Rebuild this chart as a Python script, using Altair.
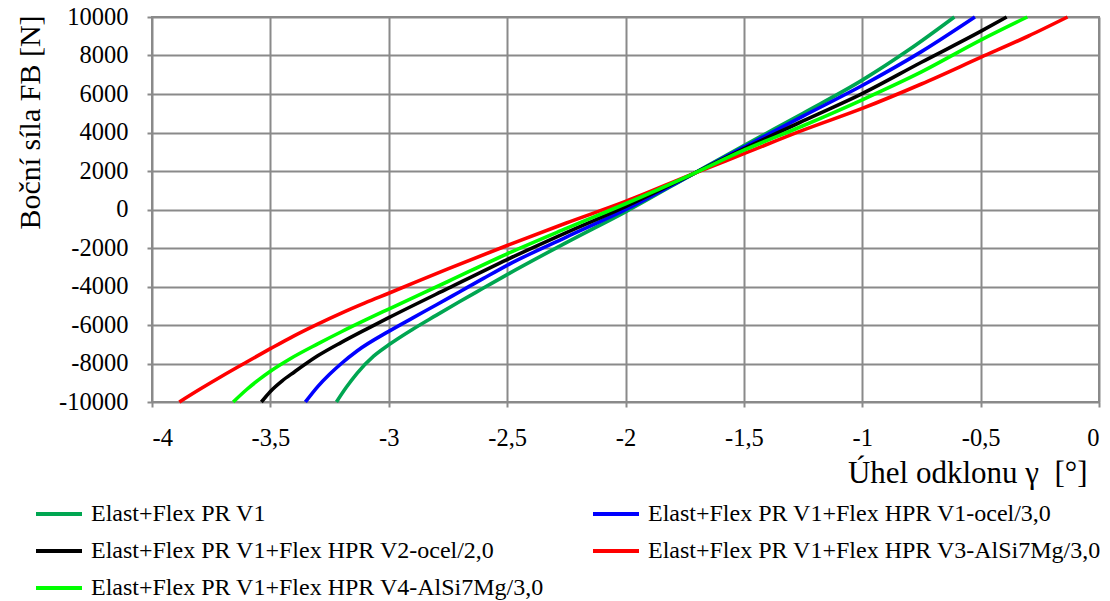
import altair as alt
import pandas as pd

# Lateral force FB [N] versus camber angle gamma [deg] for five spring variants
series_names = [
    "Elast+Flex PR V1",
    "Elast+Flex PR V1+Flex HPR V1-ocel/3,0",
    "Elast+Flex PR V1+Flex HPR V2-ocel/2,0",
    "Elast+Flex PR V1+Flex HPR V3-AlSi7Mg/3,0",
    "Elast+Flex PR V1+Flex HPR V4-AlSi7Mg/3,0",
]
series_colors = ["#00a651", "#0000ff", "#000000", "#ff0000", "#00ff00"]

pr_v1_x = [-3.221, -3.18, -3.134, -3.064, -3.0, -2.9, -2.8, -2.7, -2.6, -2.5,
           -2.25, -2.0, -1.71, -1.5, -1.25, -1.0, -0.8, -0.611]
pr_v1_y = [-10000, -9250, -8510, -7620, -7030, -6230, -5500, -4780, -4080, -3380,
           -1720, -120, 1880, 3320, 5000, 6720, 8320, 10000]

hpr_v1_x = [-3.352, -3.3, -3.25, -3.2, -3.134, -3.0, -2.9, -2.8, -2.7, -2.6, -2.5,
            -2.25, -2.0, -1.71, -1.5, -1.25, -1.0, -0.75, -0.524]
hpr_v1_y = [-10000, -9200, -8560, -8000, -7350, -6330, -5640, -4960, -4270, -3580, -2900,
            -1430, -10, 1880, 3240, 4850, 6440, 8200, 10000]

hpr_v2_x = [-3.538, -3.5, -3.45, -3.4, -3.3, -3.2, -3.1, -3.0, -2.75, -2.5,
            -2.25, -2.0, -1.71, -1.5, -1.25, -1.0, -0.75, -0.5, -0.39]
hpr_v2_y = [-10000, -9450, -8900, -8450, -7600, -6900, -6250, -5620, -4100, -2600,
            -1200, 150, 1880, 3150, 4600, 6020, 7650, 9250, 10000]

hpr_v3_x = [-3.885, -3.8, -3.7, -3.6, -3.5, -3.4, -3.3, -3.2, -3.1, -3.0, -2.75, -2.5,
            -2.25, -2.0, -1.71, -1.5, -1.25, -1.0, -0.75, -0.5, -0.3, -0.133]
hpr_v3_y = [-10000, -9350, -8620, -7920, -7230, -6560, -5950, -5380, -4850, -4350, -3080, -1870,
            -700, 420, 1880, 2900, 4120, 5250, 6520, 7900, 9000, 10000]

hpr_v4_x = [-3.657, -3.6, -3.55, -3.5, -3.416, -3.3, -3.2, -3.1, -3.0, -2.75, -2.5,
            -2.25, -2.0, -1.71, -1.5, -1.25, -1.0, -0.75, -0.5, -0.303]
hpr_v4_y = [-10000, -9350, -8850, -8400, -7750, -6980, -6350, -5750, -5170, -3740, -2300,
            -980, 300, 1880, 3080, 4350, 5700, 7150, 8800, 10000]

x_ticks = [-4, -3.5, -3, -2.5, -2, -1.5, -1, -0.5, 0]
y_ticks = [-10000, -8000, -6000, -4000, -2000, 0, 2000, 4000, 6000, 8000, 10000]

xs = [pr_v1_x, hpr_v1_x, hpr_v2_x, hpr_v3_x, hpr_v4_x]
ys = [pr_v1_y, hpr_v1_y, hpr_v2_y, hpr_v3_y, hpr_v4_y]

rows = []
for order, (name, sx, sy) in enumerate(zip(series_names, xs, ys)):
    for i, (a, b) in enumerate(zip(sx, sy)):
        rows.append({"serie": name, "order": order, "i": i, "gamma": a, "fb": b})
df = pd.DataFrame(rows)

FONT = "Liberation Serif"
GRID = "#8a8a8a"

chart = alt.Chart(df).mark_line(strokeWidth=3.6, interpolate="monotone").encode(
    x=alt.X(
        "gamma:Q",
        scale=alt.Scale(domain=[-4, 0], nice=False, zero=False),
        axis=alt.Axis(
            values=x_ticks,
            labelExpr="replace(toString(datum.value), '.', ',')",
            title="Úhel odklonu γ\u00a0\u00a0[°]",
            titleFontSize=31,
            titleX=935,
            titleY=80,
            titleAlign="right",
            titleBaseline="alphabetic",
            titleAngle=0,
        ),
    ),
    y=alt.Y(
        "fb:Q",
        scale=alt.Scale(domain=[-10000, 10000], nice=False, zero=False),
        axis=alt.Axis(
            values=y_ticks,
            labelExpr="toString(datum.value)",
            title="Boční síla FB [N]",
            titleFontSize=30,
            titleX=-122,
            titleY=105,
            titleAlign="center",
            titleBaseline="middle",
            titleAngle=-90,
        ),
    ),
    color=alt.Color(
        "serie:N",
        sort=series_names,
        scale=alt.Scale(domain=series_names, range=series_colors),
        legend=alt.Legend(
            title=None,
            orient="none",
            direction="horizontal",
            legendX=-118,
            legendY=472,
            columns=2,
            columnPadding=40,
            rowPadding=-1,
            symbolType="stroke",
            symbolSize=2116,
            symbolStrokeWidth=4,
            labelFont=FONT,
            labelFontSize=24,
            labelColor="#000000",
            labelLimit=700,
            labelOffset=7,
            padding=0,
        ),
    ),
    detail="order:N",
    order="i:Q",
).properties(
    width=947,
    height=385,
    autosize=alt.AutoSizeParams(type="none"),
    padding={"left": 152, "top": 17, "right": 11, "bottom": 199},
).configure(
    background="#ffffff",
).configure_view(
    stroke=GRID,
    strokeWidth=2,
).configure_axis(
    labelFont=FONT,
    labelFontSize=24.5,
    labelColor="#000000",
    titleFont=FONT,
    titleFontWeight="normal",
    titleColor="#000000",
    gridColor=GRID,
    gridWidth=2,
    gridOpacity=1,
    domain=False,
    tickColor=GRID,
    tickWidth=2,
    tickSize=5,
).configure_axisX(
    labelPadding=19,
).configure_axisY(
    labelPadding=19,
)

chart.save("out.html", embed_options={"renderer": "svg", "actions": False})
